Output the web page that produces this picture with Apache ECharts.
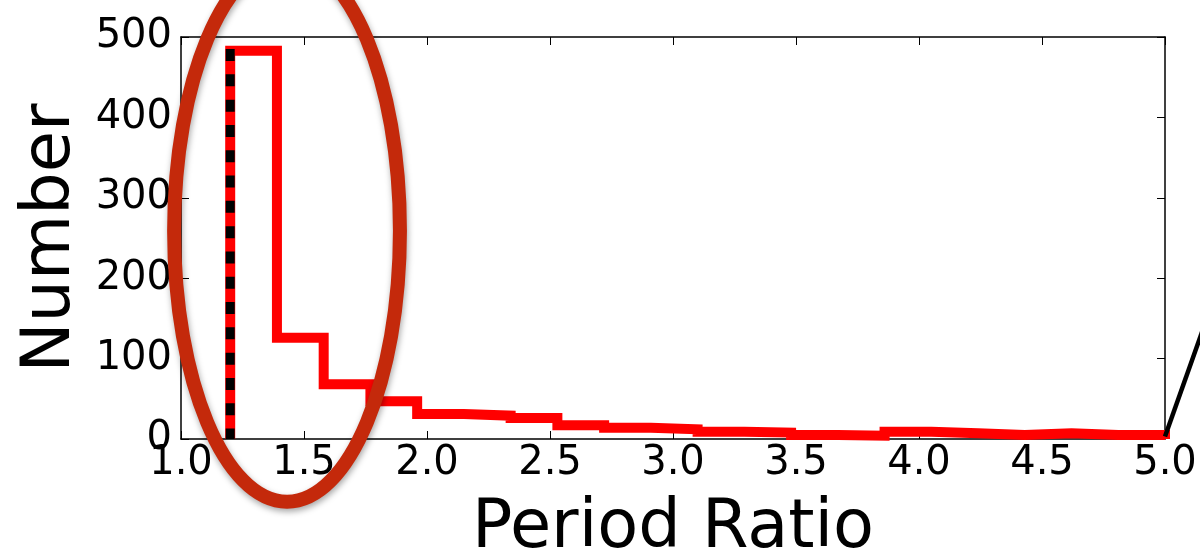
<!DOCTYPE html>
<html><head><meta charset="utf-8">
<script src="https://cdn.jsdelivr.net/npm/echarts@6/dist/echarts.min.js"></script>
<style>html,body{margin:0;padding:0;background:#fff}#c{width:1200px;height:558px}</style>
</head><body><div id="c"></div>
<script>
// Histogram bin edges (period ratio) and counts
const binEdges = [1.20,1.39,1.58,1.77,1.96,2.15,2.34,2.53,2.72,2.91,3.10,3.29,3.48,3.67,3.86,4.05,4.24,4.43,4.62,4.81,5.00];
const binCounts = [483,126,68,47,31,29,26,17,14,12,9,8,5,4,9,7,5,7,5,5];
// Dashed marker line
const markerX = 1.2;
const markerTop = 485;
// Axis settings
const xMin = 1.0, xMax = 5.0, xStep = 0.5;
const yMin = 0, yMax = 500, yStep = 100;
const xName = 'Period Ratio';
const yName = 'Number';
// Annotation (data coordinates): highlight ellipse and pointer line
const ellipseCenter = [1.431, 259];
const ellipseRadius = [0.459, 337];
const pointerFrom = [5.0, 3];
const pointerTo = [5.17, 150];

const stepData = [[binEdges[0], 0]];
for (let i = 0; i < binCounts.length; i++) stepData.push([binEdges[i], binCounts[i]]);
stepData.push([binEdges[binEdges.length - 1], binCounts[binCounts.length - 1]]);
stepData.push([binEdges[binEdges.length - 1], 0]);

const font = 'DejaVu Sans';
const axisLineStyle = {color: '#000', width: 1.5};
const chart = echarts.init(document.getElementById('c'), null, {renderer: 'canvas'});
const baseX = {
  type: 'value', min: xMin, max: xMax, interval: xStep,
  axisLine: {show: true, onZero: false, lineStyle: axisLineStyle},
  axisTick: {show: true, inside: true, length: 8, lineStyle: {color: '#000', width: 1}},
  splitLine: {show: false}
};
const baseY = {
  type: 'value', min: yMin, max: yMax, interval: yStep,
  axisLine: {show: true, onZero: false, lineStyle: axisLineStyle},
  axisTick: {show: true, inside: true, length: 8, lineStyle: {color: '#000', width: 1}},
  splitLine: {show: false}
};
chart.setOption({
  animation: false,
  backgroundColor: '#fff',
  grid: {left: 181, right: 35, top: 37, bottom: 119, containLabel: false, outerBoundsMode: 'none'},
  xAxis: [
    Object.assign({}, baseX, {
      position: 'bottom',
      name: xName, nameLocation: 'middle', nameGap: 57,
      nameTextStyle: {fontFamily: font, fontSize: 67, color: '#000'},
      axisLabel: {show: true, margin: 5, fontFamily: font, fontSize: 40, color: '#000',
        formatter: v => v.toFixed(1)}
    }),
    Object.assign({}, baseX, {position: 'top', axisLabel: {show: false}})
  ],
  yAxis: [
    Object.assign({}, baseY, {
      position: 'left',
      name: yName, nameLocation: 'middle', nameGap: 96,
      nameTextStyle: {fontFamily: font, fontSize: 67, color: '#000'},
      axisLabel: {show: true, margin: 9, fontFamily: font, fontSize: 40, color: '#000'}
    }),
    Object.assign({}, baseY, {position: 'right', axisLabel: {show: false}})
  ],
  series: [
    {
      type: 'line', xAxisIndex: 0, yAxisIndex: 0,
      data: stepData, step: 'end', symbol: 'none',
      lineStyle: {color: '#ff0000', width: 10, join: 'miter', cap: 'butt'},
      z: 2
    },
    {
      type: 'line', xAxisIndex: 0, yAxisIndex: 0,
      data: [[markerX, markerTop], [markerX, 0]], symbol: 'none',
      lineStyle: {color: '#000', width: 9, type: [12, 13.3], cap: 'butt'},
      z: 3
    }
  ]
});

const c = chart.convertToPixel({gridIndex: 0}, ellipseCenter);
const e = chart.convertToPixel({gridIndex: 0}, [ellipseCenter[0] + ellipseRadius[0], ellipseCenter[1] + ellipseRadius[1]]);
const p0 = chart.convertToPixel({gridIndex: 0}, pointerFrom);
const p1 = chart.convertToPixel({gridIndex: 0}, pointerTo);
chart.setOption({
  graphic: [
    {
      type: 'ellipse', z: 100,
      shape: {cx: c[0], cy: c[1], rx: Math.abs(e[0] - c[0]), ry: Math.abs(c[1] - e[1])},
      style: {fill: null, stroke: '#c4290b', lineWidth: 14,
        shadowBlur: 6, shadowColor: 'rgba(0,0,0,0.35)', shadowOffsetY: 3, shadowOffsetX: 1}
    },
    {
      type: 'line', z: 100,
      shape: {x1: p0[0], y1: p0[1], x2: p1[0], y2: p1[1]},
      style: {stroke: '#000', lineWidth: 4.5}
    }
  ]
});
</script></body></html>
